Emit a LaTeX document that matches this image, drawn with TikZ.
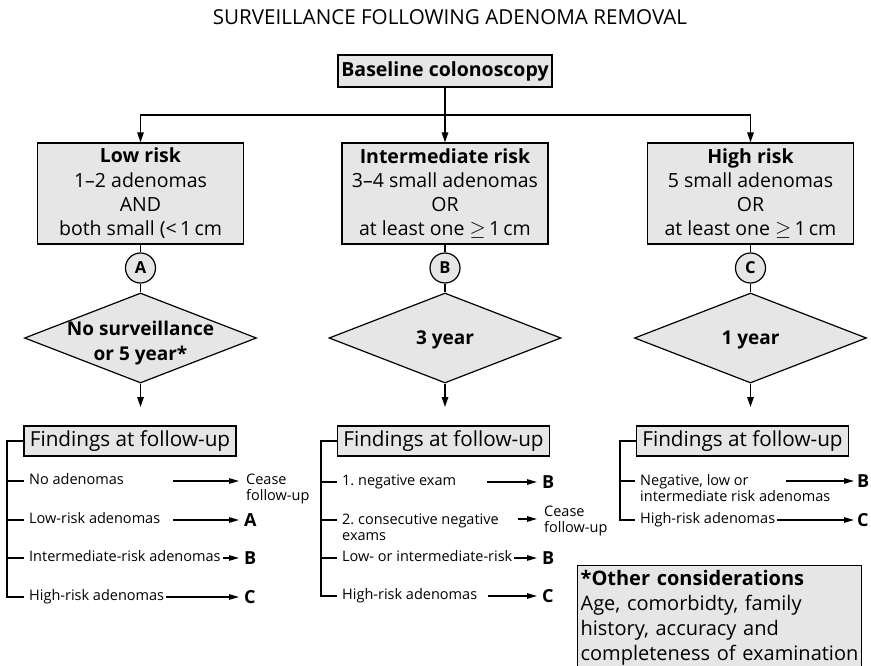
\documentclass[tikz,border=0pt]{standalone}
\usepackage{fontspec}
\setmainfont{Open Sans}
\usetikzlibrary{shapes.geometric,arrows.meta}
\frenchspacing
\definecolor{boxgray}{RGB}{230,230,230}
\newcommand{\fsz}[2]{\fontsize{#1}{#2}\selectfont}
\tikzset{
  frame/.style={draw=black, line width=1.2pt, fill=boxgray},
  rbox/.style={frame, minimum width=206pt, minimum height=101pt, inner sep=0pt, align=center, font=\fsz{19.5}{24.3}},
  bbox/.style={frame, minimum width=214pt, minimum height=32pt, inner sep=0pt, font=\bfseries\fsz{19.5}{23}},
  circ/.style={frame, circle, minimum size=30pt, inner sep=0pt, font=\bfseries\fsz{16.5}{19}},
  dia/.style={frame, diamond, minimum width=232pt, minimum height=90pt, inner sep=0pt},
  dtext/.style={align=center, inner sep=0pt, font=\bfseries\fsz{19}{25}},
  fbox/.style={frame, minimum width=212pt, minimum height=30pt, inner sep=0pt, font=\fsz{20.7}{24}},
  item/.style={anchor=west, inner xsep=5pt, inner ysep=0pt, text height=10.5pt, text depth=3pt, font=\fsz{14.5}{16.5}},
  itemtwo/.style={anchor=north west, inner xsep=5pt, inner ysep=0pt, align=left, font=\fsz{14.5}{16}},
  lett/.style={anchor=west, inner xsep=5pt, inner ysep=0pt, text height=12.5pt, text depth=0pt, font=\bfseries\fsz{18}{20}},
  cease/.style={anchor=north west, inner xsep=7pt, inner ysep=0pt, align=left, font=\fsz{14.5}{16}},
  conn/.style={line width=1.4pt},
  arr/.style={line width=1.4pt, -{Triangle[length=10pt,width=6.5pt]}},
  sarr/.style={line width=1.3pt, -{Triangle[length=10pt,width=5.5pt]}},
  tree/.style={line width=1.3pt},
}
\begin{document}
\begin{tikzpicture}[x=1pt,y=-1pt]
\useasboundingbox (0,0) rectangle (871,666);
% title and baseline
\node[inner sep=0pt, font=\fsz{20.6}{24}] (title) at (450,17) {SURVEILLANCE FOLLOWING ADENOMA REMOVAL};
\node[bbox] (base) at (445,71) {Baseline colonoscopy};
% risk boxes
\node[rbox] (low) at (140.5,193.5) {\textbf{Low risk}\\1–2 adenomas\\AND\\both small (<\,1\,cm};
\node[rbox] (mid) at (445,193.5) {\textbf{Intermediate risk}\\3–4 small adenomas\\OR\\at least one $\geq$\,1\,cm};
\node[rbox] (high) at (750.5,193.5) {\textbf{High risk}\\5 small adenomas\\OR\\at least one $\geq$\,1\,cm};
\coordinate (j) at (445,115);
\draw[conn] (base.south) -- (j);
\draw[arr] (j) -| (low.north);
\draw[arr] (j) -- (mid.north);
\draw[arr] (j) -| (high.north);
% circles
\node[circ] (ca) at (140.5,268) {A};
\node[circ] (cb) at (445,268) {B};
\node[circ] (cc) at (750.5,268) {C};
\draw[conn] (low.south) -- (ca.north);
\draw[conn] (mid.south) -- (cb.north);
\draw[conn] (high.south) -- (cc.north);
% diamonds
\node[dia] (da) at (140.5,338) {};
\node[dia] (db) at (445,338) {};
\node[dia] (dc) at (750.5,338) {};
\node[dtext] (ta) at (140.5,343) {No surveillance\\or 5 year*};
\node[dtext] (tb) at (445,340) {3 year};
\node[dtext] (tc) at (750.5,340) {1 year};
\draw[conn] (ca.south) -- (da.north);
\draw[conn] (cb.south) -- (db.north);
\draw[conn] (cc.south) -- (dc.north);
\coordinate (ea) at (140.5,407);
\coordinate (eb) at (445,407);
\coordinate (ec) at (750.5,407);
\draw[arr] (da.south) -- (ea);
\draw[arr] (db.south) -- (eb);
\draw[arr] (dc.south) -- (ec);
% findings boxes
\node[fbox] (fa) at (130,441) {Findings at follow-up};
\node[fbox] (fb) at (443.5,441) {Findings at follow-up};
\node[fbox] (fc) at (742.5,441) {Findings at follow-up};
% left column
\node[item] (a1) at (24,481) {No adenomas};
\node[item] (a2) at (24,520) {Low-risk adenomas};
\node[item] (a3) at (24,558) {Intermediate-risk adenomas};
\node[item] (a4) at (24,597) {High-risk adenomas};
\coordinate (av) at (7,597);
\draw[tree] (fa.west) -| (av) -- (a4.west);
\foreach \n in {a1,a2,a3} \draw[tree] (\n.west -| av) -- (\n.west);
\coordinate (as1) at (173,481);
\node[cease] (ao1) at (239,474) {Cease\\follow-up};
\draw[sarr] (as1) -- (as1 -| ao1.west);
\coordinate (as2) at (173,520);
\node[lett] (ao2) at (239,520) {A};
\draw[sarr] (as2) -- (ao2.west);
\coordinate (as3) at (223,558);
\node[lett] (ao3) at (239,558) {B};
\draw[sarr] (as3) -- (ao3.west);
\coordinate (as4) at (166,597);
\node[lett] (ao4) at (239,597) {C};
\draw[sarr] (as4) -- (ao4.west);
% middle column
\node[item] (b1) at (337,482) {1. negative exam};
\node[itemtwo] (b2) at (337,513.5) {2. consecutive negative\\exams};
\coordinate (bt2) at (337,520);
\node[item] (b3) at (337,558) {Low- or intermediate-risk};
\node[item] (b4) at (337,596) {High-risk adenomas};
\coordinate (bv) at (321,596);
\draw[tree] (fb.west) -| (bv) -- (b4.west);
\draw[tree] (b1.west -| bv) -- (b1.west);
\draw[tree] (bt2 -| bv) -- (bt2);
\draw[tree] (b3.west -| bv) -- (b3.west);
\coordinate (bs1) at (487,482);
\node[lett] (bo1) at (537,482) {B};
\draw[sarr] (bs1) -- (bo1.west);
\coordinate (bs2) at (518,519);
\node[cease, anchor=west] (bo2) at (537,521) {Cease\\follow-up};
\draw[sarr] (bs2) -- (bs2 -| bo2.west);
\coordinate (bs3) at (514,558);
\node[lett] (bo3) at (537,558) {B};
\draw[sarr] (bs3) -- (bo3.west);
\coordinate (bs4) at (488,596);
\node[lett] (bo4) at (537,596) {C};
\draw[sarr] (bs4) -- (bo4.west);
% right column
\node[itemtwo] (c1) at (635,474) {Negative, low or\\intermediate risk adenomas};
\coordinate (ct1) at (635,481);
\node[item] (c2) at (635,520) {High-risk adenomas};
\coordinate (cv) at (620,520);
\draw[tree] (fc.west) -| (cv) -- (c2.west);
\draw[tree] (ct1 -| cv) -- (ct1);
\coordinate (cs1) at (786,481);
\node[lett, inner xsep=3pt] (co1) at (854,481) {B};
\draw[sarr] (cs1) -- (co1.west);
\coordinate (cs2) at (777,520);
\node[lett, inner xsep=3pt] (co2) at (854,520) {C};
\draw[sarr] (cs2) -- (co2.west);
% other considerations
\node[frame, anchor=north west, minimum width=284pt, minimum height=104pt, text width=278pt, inner xsep=3pt, inner ysep=0pt, align=left, font=\fsz{20}{25}] (oc) at (577,565) {\textbf{*Other considerations}\\Age, comorbidty, family\\history, accuracy and\\completeness of examination};
\end{tikzpicture}
\end{document}
